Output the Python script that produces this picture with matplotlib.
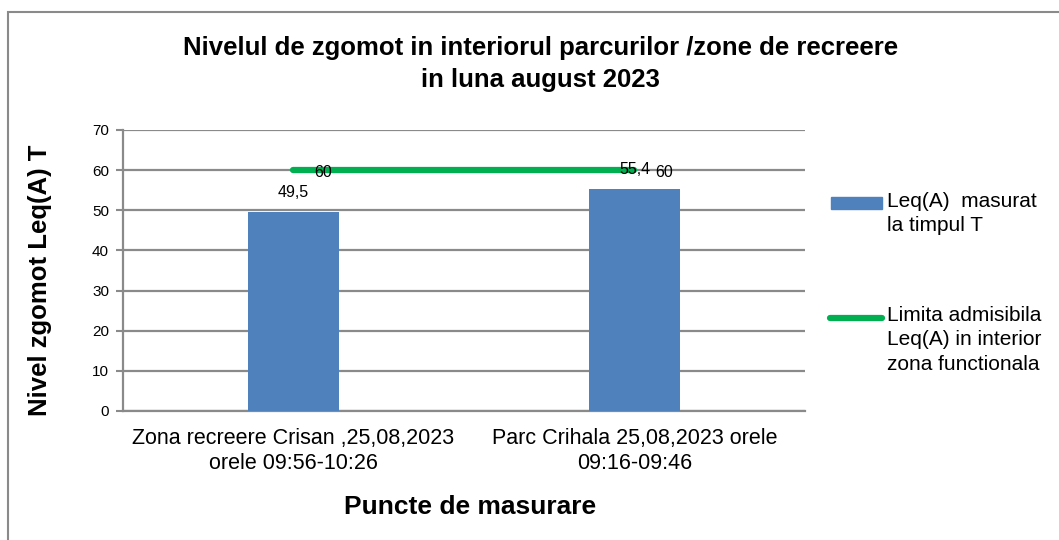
import matplotlib.pyplot as plt
from matplotlib.patches import Rectangle
from matplotlib.lines import Line2D

plt.rcParams['font.family'] = ['Liberation Sans', 'DejaVu Sans']

# Date
categorii = ["Zona recreere Crisan ,25,08,2023\norele 09:56-10:26",
             "Parc Crihala 25,08,2023 orele\n09:16-09:46"]
leq_masurat = [49.5, 55.4]
limita = [60, 60]
etichete_bare = ["49,5", "55,4"]
etichete_limita = ["60", "60"]

albastru = '#4F81BD'
verde = '#00B050'
gri = '#8a8a8a'

fig = plt.figure(figsize=(10.59, 5.40), dpi=100)
ax = fig.add_axes([0.1161, 0.2389, 0.644, 0.5204])

# chenar exterior
fig.patches.append(Rectangle((0.0076, -0.05), 1.1, 0.978 + 0.05, transform=fig.transFigure,
                             fill=False, edgecolor=gri, linewidth=1.5))

x = range(len(categorii))
ax.bar(x, leq_masurat, width=0.265, color=albastru, zorder=3)
ax.plot(x, limita, color=verde, linewidth=4.5, solid_capstyle='round', zorder=4)

for xi, v, t in zip(x, leq_masurat, etichete_bare):
    ax.text(xi, v + 3.0, t, ha='center', va='bottom', fontsize=11.5, zorder=5)
for xi, v, t in zip(x, limita, etichete_limita):
    ax.text(xi + 0.088, v - 0.5, t, ha='center', va='center', fontsize=11.5, zorder=5)

ax.set_xlim(-0.5, 1.5)
ax.set_ylim(0, 70)
ax.set_yticks(range(0, 71, 10))
ax.set_xticks(list(x))
ax.set_xticklabels(categorii, fontsize=15.5, linespacing=1.3)
ax.tick_params(axis='x', length=0, pad=12)
ax.tick_params(axis='y', length=5, width=1.5, color=gri, labelsize=11, pad=5)
ax.grid(axis='y', color=gri, linewidth=1.6, zorder=0)
for s in ['top', 'right']:
    ax.spines[s].set_visible(False)
for s in ['left', 'bottom']:
    ax.spines[s].set_color(gri)
    ax.spines[s].set_linewidth(1.6)

ax.set_ylabel("Nivel zgomot Leq(A) T", fontsize=18.5, fontweight='bold', va='center')
ax.yaxis.set_label_coords(-0.1217, 0.466)
ax.set_xlabel("Puncte de masurare", fontsize=19, fontweight='bold', va='center')
ax.xaxis.set_label_coords(0.509, -0.342)
fig.text(0.51, 0.8815, "Nivelul de zgomot in interiorul parcurilor /zone de recreere\nin luna august 2023",
         ha='center', va='center', fontsize=18.5, fontweight='bold', linespacing=1.45)

# legenda
fig.patches.append(Rectangle((831 / 1059, 1 - 209 / 540), 51 / 1059, 12 / 540,
                             transform=fig.transFigure, color=albastru))
fig.lines.append(Line2D([830 / 1059, 882 / 1059], [1 - 318 / 540] * 2, transform=fig.transFigure,
                        color=verde, linewidth=4.5, solid_capstyle='round'))
fig.text(887 / 1059, 1 - 192 / 540, "Leq(A)  masurat\nla timpul T", ha='left', va='top',
         fontsize=15, linespacing=1.35)
fig.text(887 / 1059, 1 - 306 / 540, "Limita admisibila\nLeq(A) in interior\nzona functionala",
         ha='left', va='top', fontsize=15, linespacing=1.35)

fig.savefig("out.png", dpi=100)
